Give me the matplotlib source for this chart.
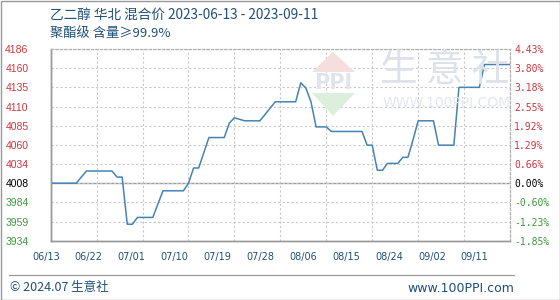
import numpy as np
import pandas as pd
import matplotlib
matplotlib.use("Agg")
import matplotlib.pyplot as plt
from matplotlib.patches import Polygon, Rectangle
from matplotlib.lines import Line2D

plt.rcParams['font.family'] = ['Noto Sans CJK SC', 'DejaVu Sans']

# price series (date, price)
dates = ["2023-06-13", "2023-06-18", "2023-06-20", "2023-06-25", "2023-06-26",
         "2023-06-27", "2023-06-28", "2023-06-29", "2023-06-30", "2023-07-03",
         "2023-07-05", "2023-07-09", "2023-07-10", "2023-07-11", "2023-07-12",
         "2023-07-14", "2023-07-17", "2023-07-18", "2023-07-19", "2023-07-21",
         "2023-07-24", "2023-07-27", "2023-07-31", "2023-08-01", "2023-08-02",
         "2023-08-03", "2023-08-04", "2023-08-06", "2023-08-07", "2023-08-13",
         "2023-08-14", "2023-08-15", "2023-08-16", "2023-08-17", "2023-08-18",
         "2023-08-20", "2023-08-21", "2023-08-22", "2023-08-23", "2023-08-24",
         "2023-08-27", "2023-08-28", "2023-08-31", "2023-09-01", "2023-09-05",
         "2023-09-06", "2023-09-11"]
prices = [4008, 4008, 4024, 4024, 4016,
          4016, 3954, 3954, 3963, 3963,
          3998, 3998, 4008, 4028, 4028,
          4068, 4068, 4087, 4094, 4090,
          4090, 4115, 4115, 4140, 4133,
          4115, 4082, 4082, 4076, 4076,
          4058, 4058, 4025, 4025, 4034,
          4034, 4042, 4042, 4065, 4090,
          4090, 4058, 4058, 4134, 4134,
          4164, 4164]

y_labels = ["3934", "3959", "3984", "4008", "4034", "4060",
            "4085", "4110", "4135", "4160", "4186"]
pct_labels = ["-1.85%", "-1.23%", "-0.60%", "0.00%", "0.66%", "1.29%",
              "1.92%", "2.55%", "3.18%", "3.80%", "4.43%"]
x_labels = ["06/13", "06/22", "07/01", "07/10", "07/19", "07/28",
            "08/06", "08/15", "08/24", "09/02", "09/11"]

title = "乙二醇 华北 混合价 2023-06-13 - 2023-09-11"
subtitle = "聚酯级 含量≥99.9%"

RED = "#d0353c"
GREEN = "#3c9a3c"
BLUE = "#4583b5"
TXT = "#1f5079"

d = pd.to_datetime(dates)
days = (d - d[0]).days.values

fig = plt.figure(figsize=(5.6, 3.0), dpi=100)
ax = fig.add_axes([50.7 / 560, 1 - 240.7 / 300, 459.3 / 560, 191.7 / 300])

y_lo, y_step = 3932.4, 25.2
yticks = y_lo + y_step * np.arange(11)
ax.set_ylim(yticks[0], yticks[-1])
ax.set_xlim(0, 90)

# grid
ax.set_xticks(np.arange(0, 91, 9))
ax.set_xticklabels([])
ax.set_yticks(yticks)
ax.grid(True, axis='x', color='#c8c8c8', ls=(0, (2, 2)), lw=0.8)
ax.grid(True, axis='y', color='#c8c8c8', ls=(0, (2, 2)), lw=0.8)
ax.tick_params(axis='x', length=0)
ax.axhline(yticks[3], color='#999999', lw=1, zorder=1)

# watermark
wm = dict(transform=fig.transFigure, zorder=0)
fig.patches.append(Polygon([[312 / 560, 1 - 72 / 300], [333 / 560, 1 - 52 / 300],
                            [355 / 560, 1 - 72 / 300]], closed=True,
                           fc='#f6dede', ec='none', **wm))
fig.patches.append(Polygon([[312 / 560, 1 - 93 / 300], [333 / 560, 1 - 116 / 300],
                            [355 / 560, 1 - 93 / 300]], closed=True,
                           fc='#dcefdc', ec='none', **wm))
fig.text(333 / 560, 1 - 83 / 300, "PPI", ha='center', va='center', fontsize=15,
         color='#e0e5ed', fontweight='bold', family='DejaVu Sans', zorder=0)
fig.text(445 / 560, 1 - 71 / 300, "生 意 社", ha='center', va='center',
         fontsize=27, color='#dde2ea', zorder=0)
fig.text(447 / 560, 1 - 103 / 300, "WWW.100PPI.COM", ha='center', va='center',
         fontsize=10, color='#e3e7ec', family='DejaVu Sans', zorder=0)
ax.set_facecolor('none')

ax.plot(days, prices, color=BLUE, lw=1.1, zorder=3)

# left tick labels
ax.set_yticklabels(y_labels, family='Liberation Sans', fontsize=7.5)
for i, t in enumerate(ax.get_yticklabels()):
    t.set_color(RED if i > 3 else ('black' if i == 3 else GREEN))
ax.tick_params(axis='y', length=0, pad=16)

# right tick labels
ax2 = ax.twinx()
ax2.set_ylim(ax.get_ylim())
ax2.set_yticks(yticks)
ax2.set_yticklabels(pct_labels, family='DejaVu Sans Mono', fontsize=7)
for i, t in enumerate(ax2.get_yticklabels()):
    t.set_color(RED if i > 3 else ('black' if i == 3 else GREEN))
ax2.tick_params(axis='y', length=0, pad=3)

# x labels sit offset from the grid lines, as in the source chart
xpos = np.arange(len(x_labels)) * 8.4 - 0.92
for xp, lab in zip(xpos, x_labels):
    ax.text(xp, -0.085, lab, transform=ax.get_xaxis_transform(), ha='center',
            va='center', fontsize=7, color=TXT, family='DejaVu Sans', clip_on=False)

for a in (ax, ax2):
    for s in ('top', 'right'):
        a.spines[s].set_color('#b0b0b0')
        a.spines[s].set_linestyle((0, (2, 2)))
        a.spines[s].set_linewidth(0.8)
    for s in ('left', 'bottom'):
        a.spines[s].set_color('#999999')
        a.spines[s].set_linewidth(1.0)

fig.text(50 / 560, 1 - 15 / 300, title, fontsize=9.8, color=TXT, va='center')
fig.text(50 / 560, 1 - 33 / 300, subtitle, fontsize=9.5, color=TXT, va='center')

# footer
fig.add_artist(Line2D([9 / 560, 514 / 560], [1 - 275 / 300, 1 - 275 / 300],
                      color='#999999', lw=0.9, transform=fig.transFigure))
fig.text(10 / 560, 1 - 288 / 300, "© 2024.07 生意社", fontsize=9, color=TXT, va='center')
fig.text(514 / 560, 1 - 288 / 300, "www.100PPI.com", fontsize=9, color=TXT,
         va='center', ha='right', family='DejaVu Sans')

fig.patches.append(Rectangle((0.5 / 560, 0.5 / 300), 559 / 560, 299 / 300,
                             transform=fig.transFigure, fill=False,
                             ec='#999999', lw=1))

fig.savefig("out.png", dpi=100)
